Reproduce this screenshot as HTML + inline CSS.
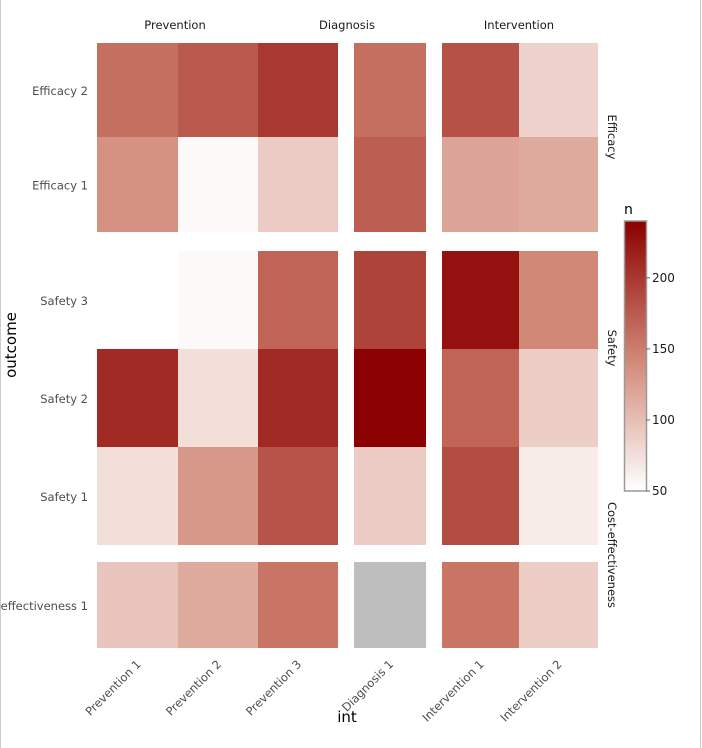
<!DOCTYPE html>
<html><head><meta charset="utf-8"><style>
body{margin:0;background:#fff;}
svg{display:block;font-family:"DejaVu Sans","Liberation Sans",sans-serif;}
</style></head><body>
<svg id="chart" width="702" height="748">
<rect x="0.5" y="-1" width="700" height="750" fill="#fff" stroke="#ccc"/>
<defs><linearGradient id="lg" x1="0" y1="1" x2="0" y2="0">
<stop offset="0" stop-color="#ffffff"/><stop offset="0.5" stop-color="#d08473"/><stop offset="1" stop-color="#8b0000"/></linearGradient></defs>
<g id="cells"></g><g id="labels"></g>
</svg>
<script>
const columns=["Prevention 1","Prevention 2","Prevention 3","Diagnosis 1","Intervention 1","Intervention 2"];
const rows=["Efficacy 2","Efficacy 1","Safety 3","Safety 2","Safety 1","Cost-effectiveness 1"];
const values=[
[160,175,200,160,182,85],
[135,55,90,172,120,115],
[null,55,168,192,228,142],
[210,75,210,240,168,88],
[75,130,180,90,185,65],
[95,115,155,"NA",155,88]];
const colX=[97,178,258,354,442,519], colW=[81,80,80,72,77,79];
const rowY=[43,137,251,349,447,562], rowH=[94,95,98,98,98,86];
const vmin=50,vmax=240;
const NS="http://www.w3.org/2000/svg";
function lerp(a,b,t){return a.map((v,i)=>Math.round(v+(b[i]-v)*t));}
function color(v){let t=(v-vmin)/(vmax-vmin);t=Math.max(0,Math.min(1,t));
 const w=[255,255,255],m=[208,132,115],r=[139,0,0];
 const c=t<0.5?lerp(w,m,t*2):lerp(m,r,(t-0.5)*2);return `rgb(${c})`;}
function el(tag,attrs,parent,text){const e=document.createElementNS(NS,tag);for(const k in attrs)e.setAttribute(k,attrs[k]);if(text!=null)e.textContent=text;parent.appendChild(e);return e;}
const cells=document.getElementById('cells'),labels=document.getElementById('labels'),svg=document.getElementById('chart');
values.forEach((row,ri)=>row.forEach((v,ci)=>{
 if(v===null)return;
 const r=el('rect',{x:colX[ci],y:rowY[ri],width:colW[ci],height:rowH[ri],fill:v==="NA"?"#bebebe":color(v)},cells);
 
 
}));
rows.forEach((n,i)=>{const t=el('text',{x:88,y:rowY[i]+rowH[i]/2+5,'text-anchor':'end','font-size':11.5,fill:'#4d4d4d'},labels,n);
 });
columns.forEach((n,i)=>{const cx=colX[i]+colW[i]/2+4,cy=665;
 const t=el('text',{x:cx,y:cy,'text-anchor':'end','font-size':11.5,fill:'#4d4d4d',transform:`rotate(-45 ${cx} ${cy})`},labels,n);
 });
[["Prevention",175],["Diagnosis",347],["Intervention",519]].forEach(([n,x])=>{
 const t=el('text',{x:x,y:29,'text-anchor':'middle','font-size':11.5,fill:'#1a1a1a'},labels,n);
 });
[["Efficacy",137],["Safety",348],["Cost-effectiveness",555]].forEach(([n,y])=>{
 const t=el('text',{x:608,y:y,'text-anchor':'middle','font-size':11.5,fill:'#1a1a1a',transform:`rotate(90 608 ${y})`},labels,n);
 });
let t=el('text',{x:16,y:345,'text-anchor':'middle','font-size':15,fill:'#000',transform:'rotate(-90 16 345)'},labels,'outcome');

t=el('text',{x:347,y:722,'text-anchor':'middle','font-size':15,fill:'#000'},labels,'int');

const legTicks=[50,100,150,200];
const ly0=491,ly1=221;
function ly(v){return ly0-(v-vmin)/(vmax-vmin)*(ly0-ly1);}
t=el('text',{x:624,y:214,'font-size':14,fill:'#000'},labels,'n');

const bar=el('rect',{x:624.5,y:ly1,width:22,height:ly0-ly1,fill:'url(#lg)',stroke:'#999','stroke-width':1.5},labels);

legTicks.forEach(v=>{const y=ly(v);
 const l=el('line',{x1:646,x2:650,y1:y,y2:y,stroke:'#666'},labels);
 
 const tx=el('text',{x:652,y:y+4,'font-size':12,fill:'#1a1a1a'},labels,v);
 });
</script>
</body></html>
